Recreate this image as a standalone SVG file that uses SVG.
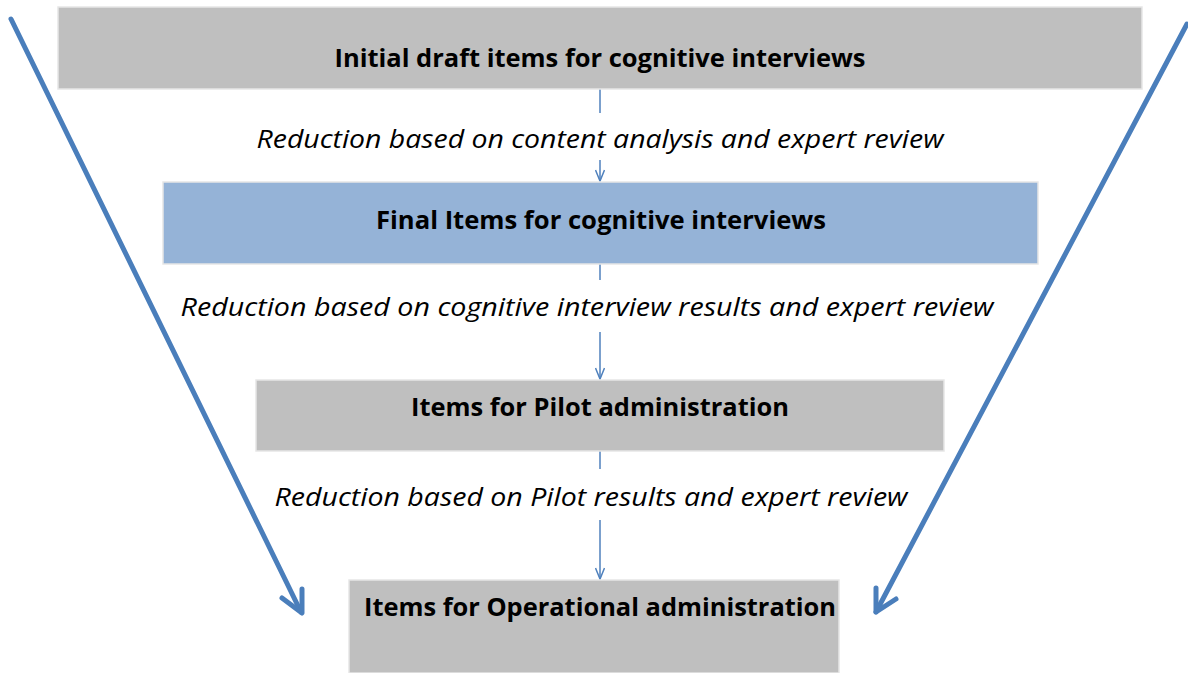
<svg xmlns="http://www.w3.org/2000/svg" width="1188" height="673" viewBox="0 0 1188 673">
<defs>
<style>
.box{fill:#BFBFBF;stroke:#E6E6E6;stroke-width:1.5}
.blue{fill:#95B3D7;stroke:#E6E6E6;stroke-width:1.5}
.h{font-family:"Open Sans","Liberation Sans",sans-serif;font-weight:bold;font-size:25px;fill:#000;text-anchor:middle}
.l{font-family:"Open Sans","Liberation Sans",sans-serif;font-style:italic;font-size:25px;fill:#000;text-anchor:middle}
.thin{stroke:#4F81BD;stroke-width:1.5;fill:none}
.big{stroke:#4A7EBB;stroke-width:5;fill:none;stroke-linecap:round;stroke-linejoin:round}
</style>
<marker id="open" markerWidth="14" markerHeight="10" refX="12" refY="5" orient="auto" markerUnits="userSpaceOnUse">
<path d="M1,0.5 L12,5 L1,9.5" fill="none" stroke="#4F81BD" stroke-width="1.5"/>
</marker>
</defs>
<rect width="1188" height="673" fill="#FFFFFF"/>
<g id="connectors">
<line class="thin" x1="600" y1="89" x2="600" y2="113"/>
<line class="thin" x1="600" y1="160" x2="600" y2="181" marker-end="url(#open)"/>
<line class="thin" x1="600" y1="264" x2="600" y2="280"/>
<line class="thin" x1="600" y1="332" x2="600" y2="379" marker-end="url(#open)"/>
<line class="thin" x1="600" y1="451" x2="600" y2="469"/>
<line class="thin" x1="600" y1="520" x2="600" y2="579" marker-end="url(#open)"/>
<path class="big" d="M11,19 L301,612"/>
<path class="big" d="M282,598 L302,613 L302,589"/>
<path class="big" d="M1187,24 L876,612"/>
<path class="big" d="M876,588 L876,612 L896,599"/>
</g>
<g id="node1">
<rect class="box" x="58" y="7" width="1084" height="82"/>
<text class="h" x="600" y="67" textLength="531" lengthAdjust="spacingAndGlyphs">Initial draft items for cognitive interviews</text>
</g>
<g id="label1">
<text class="l" x="600" y="148" textLength="687" lengthAdjust="spacingAndGlyphs">Reduction based on content analysis and expert review</text>
</g>
<g id="node2">
<rect class="blue" x="163" y="182" width="875" height="82"/>
<text class="h" x="601" y="229" textLength="450" lengthAdjust="spacingAndGlyphs">Final Items for cognitive interviews</text>
</g>
<g id="label2">
<text class="l" x="587" y="316" textLength="813" lengthAdjust="spacingAndGlyphs">Reduction based on cognitive interview results and expert review</text>
</g>
<g id="node3">
<rect class="box" x="256" y="380" width="688" height="71"/>
<text class="h" x="600" y="416" textLength="378" lengthAdjust="spacingAndGlyphs">Items for Pilot administration</text>
</g>
<g id="label3">
<text class="l" x="591" y="506" textLength="633" lengthAdjust="spacingAndGlyphs">Reduction based on Pilot results and expert review</text>
</g>
<g id="node4">
<rect class="box" x="349" y="580" width="490" height="93"/>
<text class="h" x="600" y="616" textLength="472" lengthAdjust="spacingAndGlyphs">Items for Operational administration</text>
</g>
</svg>
